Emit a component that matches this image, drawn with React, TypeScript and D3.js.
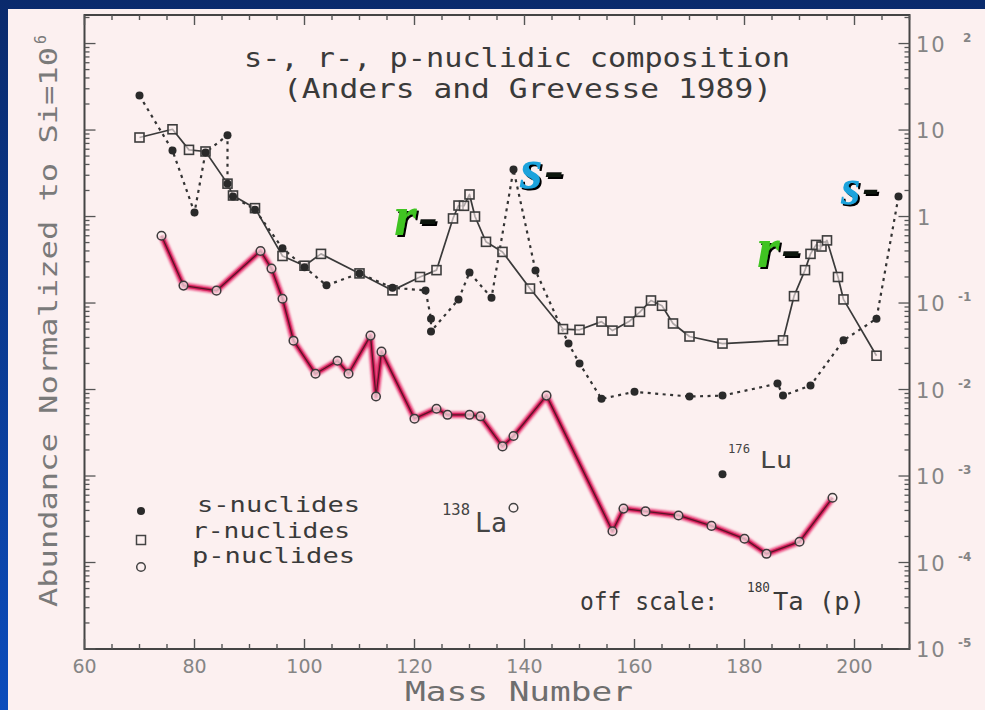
import React from 'react';
import * as d3 from 'd3';

const W = 985;
const H = 710;

// s-process nuclides (filled dots, dotted line)
const sMass = [70, 76, 80, 82, 86, 86, 87, 91, 96, 100, 104, 110, 116, 122, 123, 123, 128, 130, 134, 138, 142, 148, 150, 154, 160, 170, 176, 186, 187, 192, 198, 204, 208];
const sAbund = [25, 5.8, 1.11, 5.5, 8.7, 2.4, 1.7, 1.2, 0.43, 0.26, 0.16, 0.22, 0.15, 0.14, 0.066, 0.047, 0.11, 0.225, 0.115, 3.5, 0.237, 0.034, 0.02, 0.0078, 0.0094, 0.0083, 0.0085, 0.0117, 0.0085, 0.0111, 0.037, 0.066, 1.7];

// r-process nuclides (open squares, solid line)
const rMass = [70, 76, 79, 82, 86, 87, 91, 96, 100, 103, 110, 116, 121, 124, 127, 128, 129, 130, 131, 133, 136, 141, 147, 150, 154, 156, 159, 161, 163, 165, 167, 170, 176, 187, 189, 191, 192, 193, 194, 195, 197, 198, 204];
const rAbund = [8.2, 10.2, 5.9, 5.65, 2.4, 1.75, 1.25, 0.35, 0.27, 0.37, 0.22, 0.14, 0.2, 0.24, 0.95, 1.34, 1.33, 1.8, 1.0, 0.51, 0.39, 0.147, 0.05, 0.049, 0.061, 0.048, 0.061, 0.079, 0.107, 0.093, 0.058, 0.041, 0.034, 0.037, 0.12, 0.24, 0.37, 0.47, 0.45, 0.53, 0.2, 0.11, 0.0246];

// p-process nuclides (open circles, pink line)
const pMass = [74, 78, 84, 92, 94, 96, 98, 102, 106, 108, 112, 113, 114, 120, 124, 126, 130, 132, 136, 138, 144, 156, 158, 162, 168, 174, 180, 184, 190, 196];
const pAbund = [0.6, 0.159, 0.139, 0.4, 0.25, 0.112, 0.0367, 0.0152, 0.0215, 0.0152, 0.042, 0.0083, 0.0274, 0.0046, 0.006, 0.0051, 0.0051, 0.0049, 0.0022, 0.0029, 0.0085, 0.00023, 0.00042, 0.00039, 0.00035, 0.000265, 0.000188, 0.000126, 0.000174, 0.00056];

// isolated nuclides drawn apart from the series lines
const la138 = { mass: 138, abund: 0.00043 };
const lu176 = { mass: 176, abund: 0.00105 };

const xTickLabels = [60, 80, 100, 120, 140, 160, 180, 200];
const yDecades = [-5, -4, -3, -2, -1, 0, 1, 2];

const MONO = '"DejaVu Sans Mono", monospace';
const BG = '#fcf0f0';

export default function App() {
  const left = 84.5;
  const right = 909.5;
  const top = 15;
  const bottom = 649;

  const x = d3.scaleLinear().domain([60, 210]).range([left, right]);
  const y = d3.scaleLog().domain([1e-5, Math.pow(10, 2.33)]).range([bottom, top]);

  const toPts = (ms: number[], vs: number[]) => ms.map((m, i) => [x(m), y(vs[i])] as [number, number]);
  const sPts = toPts(sMass, sAbund);
  const rPts = toPts(rMass, rAbund);
  const pPts = toPts(pMass, pAbund);
  const line = d3.line();

  // axis ticks
  const xTicks = d3.range(60, 211, 5);
  const yTicks: { v: number; major: boolean }[] = [];
  yDecades.forEach((d) => {
    for (let k = 1; k <= 9; k++) {
      const v = k * Math.pow(10, d);
      if (v <= Math.pow(10, 2.33)) yTicks.push({ v, major: k === 1 });
    }
  });

  const frame = '#454545';
  const tickCol = '#555';
  const labelCol = '#858585';

  // italic process label with a dark drop shadow; the hyphen is dark
  const Annot = ({ tx, ty, letter, color, size }: { tx: number; ty: number; letter: string; color: string; size: number }) => (
    <text
      x={tx}
      y={ty}
      fontFamily='"Liberation Serif", "DejaVu Serif", serif'
      fontStyle="italic"
      fontWeight="bold"
      fontSize={size}
      filter="url(#shadow)"
    >
      <tspan fill={color}>{letter}</tspan>
      <tspan fill="#0c140c" dx={2}>-</tspan>
    </text>
  );

  return (
    <svg width={W} height={H} style={{ position: 'absolute', left: 0, top: 0, display: 'block' }}>
      <defs>
        <linearGradient id="border" x1="0" y1="0" x2="0" y2="1">
          <stop offset="0" stopColor="#0a2a6c" />
          <stop offset="1" stopColor="#0b4cbc" />
        </linearGradient>
        <filter id="soft" x="-5%" y="-5%" width="110%" height="110%">
          <feGaussianBlur stdDeviation="0.9" />
        </filter>
        <filter id="shadow" x="-20%" y="-20%" width="140%" height="140%">
          <feDropShadow dx="2" dy="2" stdDeviation="0.3" floodColor="#000" floodOpacity="1" />
        </filter>
      </defs>
      <rect x={0} y={0} width={W} height={H} fill="url(#border)" />
      <rect x={8} y={9} width={W - 8} height={H - 9} fill={BG} />

      {/* frame */}
      <rect x={left} y={top} width={right - left} height={bottom - top} fill="none" stroke={frame} strokeWidth={2} />

      {/* x ticks, bottom and top, pointing inward */}
      {xTicks.map((t) => {
        const len = t % 20 === 0 ? 10 : 5;
        return (
          <g key={'xt' + t} stroke={tickCol} strokeWidth={1.4}>
            <line x1={x(t)} x2={x(t)} y1={bottom} y2={bottom - len} />
            <line x1={x(t)} x2={x(t)} y1={top} y2={top + len} />
          </g>
        );
      })}

      {/* y ticks, left and right, pointing inward */}
      {yTicks.map((t, i) => {
        const len = t.major ? 11 : 5;
        const yy = y(t.v);
        return (
          <g key={'yt' + i} stroke={tickCol} strokeWidth={1.3}>
            <line x1={left} x2={left + len} y1={yy} y2={yy} />
            <line x1={right} x2={right - len} y1={yy} y2={yy} />
          </g>
        );
      })}

      {/* x tick labels */}
      {xTickLabels.map((t) => (
        <text key={'xl' + t} x={x(t)} y={673} textAnchor="middle" fontFamily='"DejaVu Sans", sans-serif' fontSize={19} fill={labelCol}>
          {t}
        </text>
      ))}

      {/* right-side decade labels */}
      {yDecades.map((d) => {
        const yy = y(Math.pow(10, d));
        if (d === 0) {
          return (
            <text key={'yl' + d} x={917} y={yy + 8} fontFamily='"DejaVu Sans", sans-serif' fontSize={21} fill={labelCol}>1</text>
          );
        }
        return (
          <g key={'yl' + d} fontFamily='"DejaVu Sans", sans-serif' fill={labelCol}>
            <text x={916} y={yy + 8} fontSize={21} letterSpacing={2}>10</text>
            {d !== 1 && (
              <text x={d > 0 ? 963 : 958} y={yy - 2} fontSize={12} fontWeight="bold">
                {d > 0 ? String(d) : '-' + String(-d)}
              </text>
            )}
          </g>
        );
      })}

      {/* axis titles */}
      <text x={405} y={701} textLength={228} lengthAdjust="spacingAndGlyphs" fontFamily={MONO} fontSize={27} fill="#6e6e6e">Mass Number</text>
      <g transform="translate(57,607) rotate(-90)" fontFamily={MONO} fill="#7a7a7a">
        <text x={0} y={0} fontSize={25} textLength={560} lengthAdjust="spacingAndGlyphs">Abundance Normalized to Si=10</text>
        <text x={563} y={-11} fontSize={15}>6</text>
      </g>

      {/* chart title */}
      <g fontFamily={MONO} fill="#3a3a3a">
        <text x={244} y={67} fontSize={27} textLength={546} lengthAdjust="spacingAndGlyphs">s-, r-, p-nuclidic composition</text>
        <text x={283} y={98} fontSize={27} textLength={489} lengthAdjust="spacingAndGlyphs">(Anders and Grevesse 1989)</text>
      </g>

      {/* p-nuclide band */}
      <path d={line(pPts) || ''} fill="none" stroke="#e8447c" strokeWidth={6.5} strokeLinejoin="round" filter="url(#soft)" />
      <path d={line(pPts) || ''} fill="none" stroke="#d0205a" strokeWidth={3.5} strokeLinejoin="round" />
      <path d={line(pPts) || ''} fill="none" stroke="#5a1428" strokeWidth={1.3} strokeLinejoin="round" />

      {/* r-nuclide line */}
      <path d={line(rPts) || ''} fill="none" stroke="#3a3a3a" strokeWidth={1.7} strokeLinejoin="round" />

      {/* s-nuclide dotted line */}
      <path d={line(sPts) || ''} fill="none" stroke="#333" strokeWidth={2.2} strokeDasharray="3,4.5" />

      {/* markers */}
      {rPts.map(([px, py], i) => (
        <rect key={'r' + i} x={px - 4.5} y={py - 4.5} width={9} height={9} fill={BG} fillOpacity={0.6} stroke="#3c3c3c" strokeWidth={1.6} />
      ))}
      {pPts.map(([px, py], i) => (
        <circle key={'p' + i} cx={px} cy={py} r={4.3} fill={BG} fillOpacity={0.7} stroke="#3c3c3c" strokeWidth={1.5} />
      ))}
      {sPts.map(([px, py], i) => (
        <circle key={'s' + i} cx={px} cy={py} r={4} fill="#2a2a2a" />
      ))}

      {/* 138La (p) and 176Lu (s) */}
      <circle cx={x(la138.mass)} cy={y(la138.abund)} r={4.3} fill="none" stroke="#444" strokeWidth={1.5} />
      <g fontFamily={MONO} fill="#444">
        <text x={442} y={515} fontSize={15} textLength={28} lengthAdjust="spacingAndGlyphs">138</text>
        <text x={475} y={532} fontSize={26} textLength={32} lengthAdjust="spacingAndGlyphs">La</text>
      </g>
      <circle cx={x(lu176.mass)} cy={y(lu176.abund)} r={4} fill="#2a2a2a" />
      <g fontFamily={MONO} fill="#444">
        <text x={728} y={453} fontSize={13} textLength={22} lengthAdjust="spacingAndGlyphs">176</text>
        <text x={760} y={468} fontSize={23} textLength={32} lengthAdjust="spacingAndGlyphs">Lu</text>
      </g>

      {/* off-scale note */}
      <g fontFamily={MONO} fill="#3a3a3a">
        <text x={580} y={610} fontSize={24} textLength={138} lengthAdjust="spacingAndGlyphs">off scale:</text>
        <text x={747} y={592} fontSize={14} textLength={23} lengthAdjust="spacingAndGlyphs">180</text>
        <text x={773} y={610} fontSize={24} textLength={92} lengthAdjust="spacingAndGlyphs">Ta (p)</text>
      </g>

      {/* legend */}
      <circle cx={141} cy={511} r={4} fill="#2a2a2a" />
      <rect x={136.5} y={535.5} width={9} height={9} fill="none" stroke="#444" strokeWidth={1.5} />
      <circle cx={141} cy={567} r={4.3} fill="none" stroke="#444" strokeWidth={1.5} />
      <g fontFamily={MONO} fill="#3a3a3a" fontSize={21}>
        <text x={197} y={512} textLength={163} lengthAdjust="spacingAndGlyphs">s-nuclides</text>
        <text x={192} y={538} textLength={158} lengthAdjust="spacingAndGlyphs">r-nuclides</text>
        <text x={192} y={563} textLength={163} lengthAdjust="spacingAndGlyphs">p-nuclides</text>
      </g>

      {/* process labels */}
      <Annot tx={394} ty={235} letter="r" color="#3fc422" size={58} />
      <Annot tx={520} ty={188} letter="s" color="#1ea3dc" size={58} />
      <Annot tx={757} ty={267} letter="r" color="#3fc422" size={58} />
      <Annot tx={841} ty={204} letter="s" color="#1ea3dc" size={50} />
    </svg>
  );
}
